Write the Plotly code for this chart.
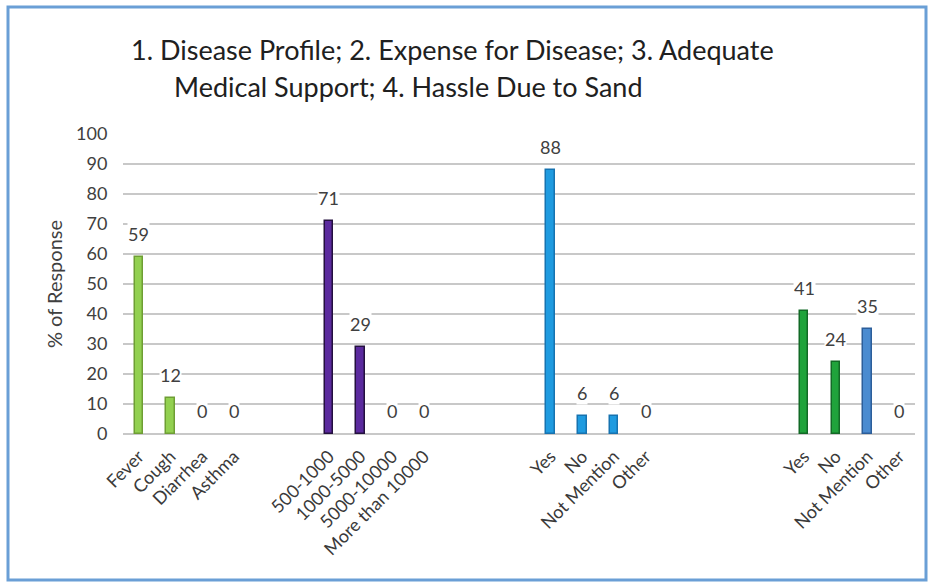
import plotly.graph_objects as go

# ---- data ----
disease_labels = ["Fever", "Cough", "Diarrhea", "Asthma"]
disease_values = [59, 12, 0, 0]
expense_labels = ["500-1000", "1000-5000", "5000-10000", "More than 10000"]
expense_values = [71, 29, 0, 0]
support_labels = ["Yes", "No", "Not Mention", "Other"]
support_values = [88, 6, 6, 0]
hassle_labels = ["Yes", "No", "Not Mention", "Other"]
hassle_values = [41, 24, 35, 0]

title_line1 = "1. Disease Profile; 2. Expense for Disease; 3. Adequate"
title_line2 = "Medical Support; 4. Hassle Due to Sand"
y_title = "% of Response"

groups = [
    (disease_labels, disease_values, ["#92D050"] * 4, ["#6E9E34"] * 4),
    (expense_labels, expense_values, ["#5B2A9E"] * 4, ["#24103F"] * 4),
    (support_labels, support_values, ["#1F9BE0"] * 4, ["#1673B0"] * 4),
    (hassle_labels, hassle_values, ["#1FA33B", "#1FA33B", "#4A8BD0", "#4A8BD0"],
     ["#126A26", "#126A26", "#2C5E9A", "#2C5E9A"]),
]
group_starts = [0, 6, 13, 21]

FONT = "Lato, 'Open Sans', sans-serif"

fig = go.Figure()
tickvals, ticktext = [], []
annotations = []
for (labels, values, fills, lines), start in zip(groups, group_starts):
    xs = [start + i for i in range(len(labels))]
    tickvals += xs
    ticktext += labels
    fig.add_trace(go.Bar(
        x=xs, y=values, width=0.27,
        marker=dict(color=fills,
                    line=dict(color=lines, width=[1.5 if v > 0 else 0 for v in values])),
        showlegend=False, hoverinfo="x+y",
    ))
    for x, v in zip(xs, values):
        annotations.append(dict(
            x=x, y=v, xref="x", yref="y", text=str(v), showarrow=False,
            yanchor="bottom", yshift=11, bgcolor="white", borderpad=0,
            font=dict(family=FONT, size=18, color="#404040"),
        ))

# title lines
annotations.append(dict(x=(452 - 123) / 792, y=(434 - 50) / 300, xref="paper", yref="paper",
                        text=title_line1, showarrow=False, xanchor="center", yanchor="middle",
                        font=dict(family=FONT, size=27, color="#202020")))
annotations.append(dict(x=(172 - 123) / 792, y=(434 - 87) / 300, xref="paper", yref="paper",
                        text=title_line2, showarrow=False, xanchor="left", yanchor="middle",
                        font=dict(family=FONT, size=27, color="#202020")))

fig.update_layout(
    width=933, height=584,
    margin=dict(l=123, r=18, t=134, b=150),
    paper_bgcolor="white", plot_bgcolor="white",
    font=dict(family=FONT, color="#404040"),
    bargap=0,
    annotations=annotations,
    shapes=[dict(type="rect", xref="paper", yref="paper",
                 x0=(8 - 123) / 792, x1=(926 - 123) / 792,
                 y0=(434 - 580) / 300, y1=(434 - 7) / 300,
                 line=dict(color="#6A9FD6", width=3), layer="below")],
)
fig.update_xaxes(
    range=[-0.5, 24.5], tickvals=tickvals, ticktext=ticktext, tickangle=-45,
    tickfont=dict(family=FONT, size=18, color="#3A3A3A"),
    showgrid=False, zeroline=False, showline=False,
    ticks="outside", ticklen=4, tickcolor="rgba(0,0,0,0)",
)
fig.update_yaxes(
    range=[0, 100], dtick=10, showgrid=True, gridcolor="#C8C8C8", gridwidth=2,
    zeroline=True, zerolinecolor="#C8C8C8", zerolinewidth=2,
    tickfont=dict(family=FONT, size=18, color="#404040"),
    ticks="outside", ticklen=11, tickcolor="rgba(0,0,0,0)",
    title=dict(text=y_title, font=dict(family=FONT, size=20, color="#404040"), standoff=8),
)

fig.write_html("out.html", post_script="document.body.style.margin='0px';",
               config={"displayModeBar": False})
